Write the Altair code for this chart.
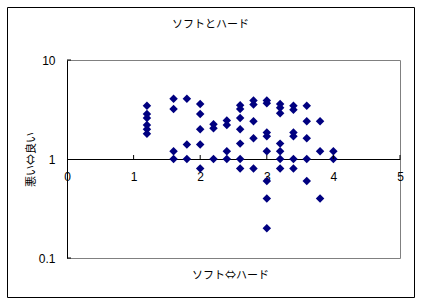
import altair as alt
import pandas as pd

# x: ソフト⇔ハード, y: 悪い⇔良い
soft = [1.2, 1.2, 1.2, 1.2, 1.2, 1.2,
        1.6, 1.6, 1.6, 1.6,
        1.8, 1.8, 1.8,
        2.0, 2.0, 2.0, 2.0, 2.0,
        2.2, 2.2, 2.2,
        2.4, 2.4, 2.4, 2.4,
        2.6, 2.6, 2.6, 2.6, 2.6, 2.6, 2.6,
        2.8, 2.8, 2.8, 2.8, 2.8,
        3.0, 3.0, 3.0, 3.0, 3.0, 3.0, 3.0, 3.0,
        3.2, 3.2, 3.2, 3.2, 3.2, 3.2, 3.2,
        3.4, 3.4, 3.4, 3.4, 3.4, 3.4,
        3.6, 3.6, 3.6, 3.6, 3.6,
        3.8, 3.8, 3.8,
        4.0, 4.0]
good_bad = [3.45, 2.85, 2.6, 2.2, 2.0, 1.8,
            4.05, 3.2, 1.2, 1.0,
            4.05, 1.4, 1.0,
            3.6, 2.85, 2.0, 1.4, 0.8,
            2.25, 2.05, 1.0,
            2.45, 2.2, 1.2, 1.0,
            3.5, 3.2, 2.6, 2.0, 1.43, 1.0, 0.8,
            3.9, 3.55, 2.4, 1.62, 0.8,
            3.9, 3.65, 1.85, 1.7, 1.2, 0.6, 0.4, 0.2,
            3.6, 3.3, 2.9, 1.43, 1.2, 1.0, 0.8,
            3.45, 3.15, 1.85, 1.7, 1.0, 0.8,
            3.45, 2.4, 1.62, 1.0, 0.6,
            2.4, 1.2, 0.4,
            1.2, 1.0]

x_ticks = [0, 1, 2, 3, 4, 5]
y_ticks = [0.1, 1, 10]
x_tick_marks = [1, 2, 3, 4, 5]
y_tick_marks = [0.1, 10]

df = pd.DataFrame({"soft": soft, "good": good_bad})
xt = pd.DataFrame({"soft": x_tick_marks, "good": [1] * len(x_tick_marks)})
yt = pd.DataFrame({"soft": [0] * len(y_tick_marks), "good": y_tick_marks})

FONT_JP = "Noto Sans CJK JP"
FONT_NUM = "Liberation Sans"

xscale = alt.Scale(domain=[0, 5], nice=False, zero=False)
yscale = alt.Scale(type="log", domain=[0.1, 10], nice=False)

xaxis = alt.Axis(values=x_ticks, format="d", offset=-99, ticks=False,
                 labelPadding=12, labelFont=FONT_NUM, labelFontSize=12,
                 labelColor="black", domainColor="black", grid=False,
                 title="ソフト⇔ハード", titleFont=FONT_JP, titleFontSize=11,
                 titleFontWeight="normal", titleColor="black",
                 titleY=116, titleX=163, titleBaseline="middle",
                 labelFlush=False, labelOverlap=False)
yaxis = alt.Axis(values=y_ticks, format="~g", ticks=False, labelPadding=12,
                 labelFont=FONT_NUM, labelFontSize=12, labelColor="black",
                 domainColor="black", grid=False,
                 title="悪い⇔良い", titleFont=FONT_JP, titleFontSize=11,
                 titleFontWeight="normal", titleColor="black",
                 titleAngle=-90, titleX=-36, titleY=99,
                 titleAlign="center", titleBaseline="middle",
                 labelFlush=False, labelOverlap=False)

points = alt.Chart(df).mark_point(
    shape="diamond", filled=True, color="#000080", size=72, opacity=1
).encode(
    x=alt.X("soft:Q", scale=xscale, axis=xaxis),
    y=alt.Y("good:Q", scale=yscale, axis=yaxis),
)

xtick_layer = alt.Chart(xt).mark_point(
    shape="M0,0L0,-1", filled=False, stroke="black", strokeWidth=1, size=64, opacity=1
).encode(
    x=alt.X("soft:Q", scale=xscale),
    y=alt.Y("good:Q", scale=yscale),
)

ytick_layer = alt.Chart(yt).mark_point(
    shape="M0,0L1,0", filled=False, stroke="black", strokeWidth=1, size=64, opacity=1
).encode(
    x=alt.X("soft:Q", scale=xscale),
    y=alt.Y("good:Q", scale=yscale),
)

frame = alt.Chart(alt.Data(values=[{}])).mark_rect(
    filled=False, stroke="black", strokeWidth=1
).encode(
    x=alt.value(-59.5), x2=alt.value(347.5),
    y=alt.value(-52.5), y2=alt.value(237.5),
)

chart = alt.layer(points, xtick_layer, ytick_layer, frame).properties(
    width=333,
    height=198,
    title=alt.TitleParams("ソフトとハード", font=FONT_JP, fontSize=11,
                          fontWeight="normal", color="black", offset=-23, dx=-23,
                          frame="group"),
    padding={"left": 67, "top": 60, "right": 23, "bottom": 48},
    autosize=alt.AutoSizeParams(type="none"),
    background="white",
).configure_view(
    stroke="#808080", strokeWidth=1
)

chart.save("out.html", embed_options={"renderer": "svg", "actions": False})
